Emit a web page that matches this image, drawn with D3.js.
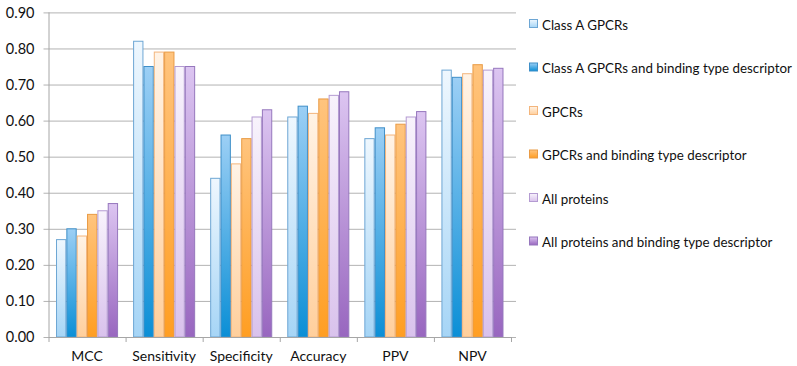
<!DOCTYPE html>
<html>
<head>
<meta charset="utf-8">
<script src="https://d3js.org/d3.v7.min.js"></script>
<style>
    body { margin: 0; background: #fff; }
    text { font-family: Lato, "Open Sans", sans-serif; fill: #111; }
</style>
</head>
<body>
<svg id="vis"></svg>
<script>
    var width = 797,
        height = 366;

    // data
    var metrics = ["MCC", "Sensitivity", "Specificity", "Accuracy", "PPV", "NPV"];
    var seriesNames = [
        "Class A GPCRs",
        "Class A GPCRs and binding type descriptor",
        "GPCRs",
        "GPCRs and binding type descriptor",
        "All proteins",
        "All proteins and binding type descriptor"
    ];
    var classA = [0.27, 0.82, 0.44, 0.61, 0.55, 0.74];
    var classABinding = [0.30, 0.75, 0.56, 0.64, 0.58, 0.72];
    var gpcrs = [0.28, 0.79, 0.48, 0.62, 0.56, 0.73];
    var gpcrsBinding = [0.34, 0.79, 0.55, 0.66, 0.59, 0.755];
    var allProteins = [0.35, 0.75, 0.61, 0.67, 0.61, 0.74];
    var allProteinsBinding = [0.37, 0.75, 0.63, 0.68, 0.625, 0.745];
    var seriesValues = [classA, classABinding, gpcrs, gpcrsBinding, allProteins, allProteinsBinding];
    var yTicks = [0, 0.1, 0.2, 0.3, 0.4, 0.5, 0.6, 0.7, 0.8, 0.9];

    // gradient stops (top, bottom) and border for each series
    var styles = [
        { top: "#eef7fe", bottom: "#a6d5f6", stroke: "#6da6d4" },
        { top: "#9ccff5", bottom: "#0b8fd6", stroke: "#3f8fc8" },
        { top: "#fff3e6", bottom: "#ffcf9c", stroke: "#f3b57c" },
        { top: "#ffc47e", bottom: "#ff9e22", stroke: "#e99b45" },
        { top: "#f8f3fc", bottom: "#d9c2ec", stroke: "#b49bd2" },
        { top: "#dcc5f1", bottom: "#9866bf", stroke: "#9677bd" }
    ];

    var margin = { left: 48.5, right: 286, top: 12.4, bottom: 29 };
    var plotW = width - margin.left - margin.right,
        plotH = height - margin.top - margin.bottom;

    var svg = d3.select("#vis").attr("width", width).attr("height", height);

    var defs = svg.append("defs");
    styles.forEach((s, i) => {
        var g = defs.append("linearGradient")
            .attr("id", "grad" + i)
            .attr("x1", 0).attr("y1", 0).attr("x2", 0).attr("y2", 1);
        g.append("stop").attr("offset", "0%").attr("stop-color", s.top);
        g.append("stop").attr("offset", "100%").attr("stop-color", s.bottom);
    });

    var chart = svg.append("g")
        .attr("transform", `translate(${margin.left},${margin.top})`);

    var x0 = d3.scaleBand().domain(metrics).range([0, plotW]).paddingInner(0.195).paddingOuter(0.0975);
    var band = d3.scaleBand().domain(metrics).range([0, plotW]);
    var x1 = d3.scaleBand().domain(d3.range(seriesNames.length)).range([0, x0.bandwidth()]);
    var y = d3.scaleLinear().domain([0, 0.9]).range([plotH, 0]);

    // gridlines + y labels
    var yAxis = chart.append("g")
        .call(d3.axisLeft(y).tickValues(yTicks).tickSize(-plotW - 5).tickPadding(10).tickFormat(d3.format(".2f")));
    yAxis.select(".domain").remove();
    yAxis.selectAll(".tick line")
        .attr("x1", -5)
        .attr("stroke", "#b3b3b3");
    yAxis.selectAll(".tick text")
        .attr("x", -14)
        .style("font-size", "14.5px")
        .attr("fill", "#111");

    // vertical axis line
    chart.append("line")
        .attr("x1", 0.5).attr("x2", 0.5)
        .attr("y1", 0).attr("y2", plotH)
        .attr("stroke", "#a6a6a6");

    // bars
    var groups = chart.selectAll(".group")
        .data(metrics)
        .enter().append("g")
        .attr("class", "group")
        .attr("transform", d => `translate(${x0(d)},0)`);

    groups.selectAll("rect")
        .data((d, mi) => seriesValues.map((vals, si) => ({ si: si, v: vals[mi] })))
        .enter().append("rect")
        .attr("x", d => x1(d.si) + 0.5)
        .attr("width", x1.bandwidth() - 1)
        .attr("y", d => y(d.v))
        .attr("height", d => plotH - y(d.v))
        .attr("fill", d => `url(#grad${d.si})`)
        .attr("stroke", d => styles[d.si].stroke)
        .attr("stroke-width", 1);

    // x axis
    var xAxis = chart.append("g")
        .attr("transform", `translate(0,${plotH})`)
        .call(d3.axisBottom(band).tickSize(0).tickPadding(14));
    xAxis.select(".domain").attr("stroke", "#a6a6a6");
    xAxis.selectAll(".tick text").style("font-size", "14px").attr("fill", "#111");
    chart.append("g")
        .selectAll("line")
        .data(d3.range(metrics.length + 1))
        .enter().append("line")
        .attr("x1", i => i * band.step() + 0.5)
        .attr("x2", i => i * band.step() + 0.5)
        .attr("y1", plotH)
        .attr("y2", plotH + 5)
        .attr("stroke", "#a6a6a6");

    // legend
    var legend = svg.append("g").attr("transform", "translate(529,19)");
    var rows = legend.selectAll(".row")
        .data(seriesNames)
        .enter().append("g")
        .attr("class", "row")
        .attr("transform", (d, i) => `translate(0,${i * 43.5})`);
    rows.append("rect")
        .attr("x", 0.5).attr("y", 0.5)
        .attr("width", 8).attr("height", 8)
        .attr("fill", (d, i) => `url(#grad${i})`)
        .attr("stroke", (d, i) => styles[i].stroke);
    var labels = rows.append("text")
        .attr("x", 13)
        .attr("y", 10.5)
        .style("font-size", "14px")
        .text(d => d);

    // shrink legend font so the longest label fits the same width as the original
    var longest = d3.max(labels.nodes(), n => n.getComputedTextLength());
    if (longest > 250) labels.style("font-size", (14 * 250 / longest) + "px");
</script>
</body>
</html>
